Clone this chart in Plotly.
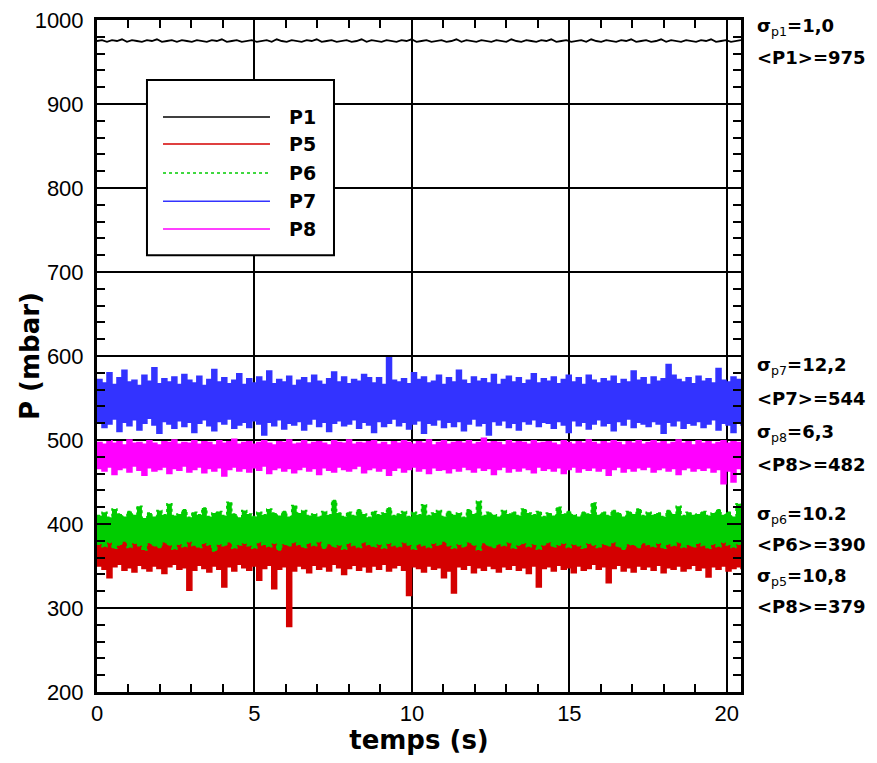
import numpy as np
import plotly.graph_objects as go

T_END = 20.45

# P1: thin, nearly constant signal
P1 = [
975, 976, 974, 976, 975, 977, 974, 976, 975, 974, 976, 975, 977, 974, 975, 976, 974, 976, 975, 974,
976, 975, 974, 976, 975, 977, 974, 975, 976, 974, 975, 976, 974, 975, 976, 974, 977, 975, 974, 976,
975, 974, 976, 975, 977, 974, 975, 976, 974, 975, 976, 974, 975, 977, 974, 976, 975, 974, 976, 975,
974, 976, 975, 977, 974, 975, 976, 974, 975, 976, 974, 975, 977, 974, 976, 975, 974, 976, 975, 974,
976, 975, 974, 977, 975, 974, 976, 975, 974, 976, 975, 977, 974, 975, 976, 974, 975, 976, 974, 977,
975, 974, 976, 975, 974, 976, 975, 977, 974, 975, 976, 974, 975, 977, 974, 976, 975, 974, 976, 975,
974, 976, 975, 977, 974, 975, 976, 974, 975, 976
]

# Dense signals: upper and lower envelope read per time bin (mbar)
P5_HI = [
388, 392, 386, 390, 394, 387, 391, 389, 393, 386,
390, 387, 392, 388, 395, 386, 391, 389, 387, 393,
389, 391, 386, 394, 388, 390, 387, 392, 389, 386,
392, 388, 390, 387, 393, 389, 386, 391, 388, 394,
387, 390, 392, 388, 386, 391, 389, 393, 387, 390,
391, 388, 386, 392, 389, 394, 387, 390, 388, 392,
386, 391, 389, 387, 393, 388, 390, 386, 392, 389,
390, 387, 393, 389, 386, 391, 388, 392, 390, 387,
388, 392, 387, 390, 394, 386, 391, 389, 387, 393,
391, 386, 390, 388, 392, 389, 387, 391, 393, 388,
387, 390, 392, 386, 389, 393, 388, 390, 386, 391,
392, 388, 387, 391, 389, 386, 393, 388, 390, 387,
389, 391, 386, 392, 388, 390, 387, 393, 389, 388
]
P5_LO = [
350, 346, 336, 349, 352, 345, 348, 343, 351, 347,
344, 350, 347, 341, 349, 352, 346, 348, 321, 345,
351, 347, 343, 350, 346, 325, 349, 344, 352, 348,
345, 350, 333, 347, 351, 323, 346, 349, 278, 344,
350, 347, 342, 351, 346, 349, 344, 352, 348, 340,
347, 351, 345, 349, 343, 350, 346, 352, 344, 348,
351, 345, 315, 349, 347, 343, 350, 346, 348, 336,
344, 318, 349, 346, 351, 342, 348, 345, 350, 347,
343, 349, 346, 351, 345, 348, 341, 350, 325, 347,
349, 344, 351, 346, 348, 342, 350, 345, 347, 352,
346, 349, 330, 347, 351, 344, 348, 343, 350, 346,
349, 345, 351, 342, 348, 346, 350, 344, 347, 351,
345, 348, 337, 349, 346, 350, 344, 347, 349, 346
]
P6_HI = [
410, 414, 408, 418, 412, 409, 415, 411, 421, 407,
413, 409, 416, 411, 424, 410, 412, 417, 408, 414,
411, 419, 409, 413, 415, 410, 426, 412, 408, 416,
412, 409, 414, 411, 418, 413, 410, 415, 409, 422,
413, 416, 410, 412, 409, 415, 411, 428, 413, 409,
414, 410, 417, 412, 408, 415, 411, 413, 419, 410,
412, 415, 409, 414, 411, 423, 410, 413, 416, 409,
415, 411, 413, 408, 417, 412, 427, 410, 414, 411,
409, 416, 412, 414, 410, 418, 413, 411, 415, 409,
413, 410, 420, 412, 415, 411, 409, 414, 412, 425,
411, 414, 410, 416, 413, 409, 415, 412, 418, 410,
414, 411, 413, 409, 416, 412, 421, 410, 414, 411,
412, 415, 410, 413, 417, 411, 414, 409, 424, 412
]
P6_LO = [
376, 373, 378, 371, 375, 379, 372, 377, 374, 369,
377, 374, 372, 378, 375, 370, 376, 373, 379, 374,
372, 377, 375, 368, 376, 374, 378, 371, 375, 377,
374, 371, 378, 375, 373, 377, 369, 376, 374, 378,
375, 372, 377, 374, 379, 371, 376, 373, 375, 370,
377, 374, 372, 378, 375, 373, 376, 371, 377, 374,
373, 378, 375, 370, 376, 374, 372, 377, 375, 379,
374, 371, 376, 373, 378, 375, 369, 377, 374, 372,
376, 374, 378, 371, 375, 377, 373, 376, 370, 375,
378, 373, 375, 377, 372, 376, 374, 371, 377, 375,
372, 376, 374, 378, 373, 370, 376, 375, 372, 377,
375, 373, 377, 371, 376, 374, 378, 372, 375, 373,
377, 374, 371, 376, 373, 378, 375, 372, 376, 374
]
P7_HI = [
572, 568, 580, 566, 574, 583, 569, 571, 565, 577,
570, 586, 567, 573, 569, 575, 566, 578, 571, 568,
576, 565, 572, 584, 569, 574, 567, 571, 579, 566,
573, 568, 575, 570, 582, 567, 572, 569, 576, 565,
571, 574, 568, 577, 570, 566, 573, 581, 569, 575,
567, 572, 570, 578, 574, 568, 574, 566, 598, 571,
569, 573, 567, 580, 572, 575, 568, 570, 577, 566,
574, 569, 583, 571, 567, 575, 570, 573, 568, 578,
566, 572, 576, 569, 574, 567, 571, 579, 568, 573,
570, 575, 567, 572, 577, 569, 574, 566, 577, 571,
568, 573, 570, 576, 567, 572, 569, 582, 571, 574,
566, 575, 570, 573, 590, 577, 572, 569, 574, 567,
576, 570, 573, 568, 585, 571, 569, 575, 572, 570
]
P7_LO = [
522, 515, 519, 525, 510, 521, 517, 524, 512, 520,
526, 518, 508, 522, 519, 514, 523, 516, 521, 509,
520, 524, 517, 511, 522, 519, 525, 514, 518, 521,
515, 523, 519, 506, 521, 517, 524, 513, 520, 518,
522, 512, 519, 525, 516, 521, 510, 520, 523, 517,
519, 524, 514, 521, 518, 509, 522, 516, 520, 525,
517, 521, 513, 519, 523, 508, 520, 518, 524, 515,
521, 516, 522, 511, 519, 525, 517, 520, 506, 522,
518, 523, 515, 520, 512, 522, 519, 524, 516, 521,
520, 514, 522, 518, 509, 523, 517, 521, 513, 519,
524, 517, 520, 511, 522, 518, 525, 515, 521, 519,
516, 522, 519, 508, 521, 517, 523, 514, 520, 518,
522, 515, 519, 524, 512, 520, 518, 509, 521, 517
]
P8_HI = [
497, 495, 499, 496, 498, 494, 500, 496, 497, 495,
499, 496, 494, 498, 497, 500, 495, 497, 496, 499,
495, 498, 497, 494, 499, 496, 498, 501, 495, 497,
498, 495, 497, 499, 496, 494, 498, 497, 500, 495,
496, 499, 495, 497, 498, 496, 494, 499, 497, 496,
500, 495, 497, 496, 498, 499, 495, 497, 494, 498,
496, 499, 497, 495, 498, 496, 500, 494, 497, 499,
495, 497, 498, 496, 499, 495, 497, 502, 496, 498,
497, 494, 499, 496, 498, 497, 495, 499, 496, 497,
498, 496, 494, 499, 497, 495, 498, 496, 500, 497,
495, 498, 496, 499, 497, 494, 498, 496, 499, 495,
497, 499, 496, 498, 495, 497, 500, 496, 498, 494,
499, 496, 498, 495, 497, 499, 496, 498, 497, 495
]
P8_LO = [
466, 463, 468, 459, 465, 467, 462, 469, 464, 458,
467, 463, 465, 468, 460, 466, 464, 469, 462, 465,
468, 461, 466, 463, 467, 457, 465, 468, 463, 466,
462, 467, 464, 469, 460, 465, 467, 463, 466, 461,
465, 468, 463, 466, 459, 467, 464, 462, 468, 465,
463, 466, 469, 461, 465, 467, 463, 466, 458, 464,
467, 462, 465, 468, 463, 466, 460, 467, 464, 465,
461, 466, 463, 468, 465, 462, 467, 464, 466, 459,
465, 468, 462, 466, 463, 467, 465, 461, 468, 464,
466, 463, 467, 460, 465, 468, 462, 466, 464, 467,
463, 466, 458, 465, 468, 462, 466, 463, 467, 465,
468, 462, 465, 467, 463, 466, 459, 465, 467, 463,
466, 464, 467, 462, 465, 448, 463, 450, 466, 460
]

SERIES_NAMES = ["P1", "P5", "P6", "P7", "P8"]
COLORS = ["#000000", "#d40000", "#00cc00", "#3333ff", "#ff00ff"]
DASHES = ["solid", "solid", "dot", "solid", "solid"]
BANDS = {"P5": (P5_LO, P5_HI), "P6": (P6_LO, P6_HI), "P7": (P7_LO, P7_HI), "P8": (P8_LO, P8_HI)}

STAT_TEXTS = [
    ("σ", "p1", "=1,0", "<P1>=975"),
    ("σ", "p7", "=12,2", "<P7>=544"),
    ("σ", "p8", "=6,3", "<P8>=482"),
    ("σ", "p6", "=10.2", "<P6>=390"),
    ("σ", "p5", "=10,8", "<P8>=379"),
]
STAT_Y = [(0.9896, 0.9435), (0.4851, 0.4375), (0.3854, 0.3378), (0.2634, 0.2188), (0.1711, 0.1265)]

FONT = "DejaVu Sans, Verdana, sans-serif"
TICK_FONT = "Liberation Sans, Arial, Helvetica, sans-serif"

fig = go.Figure()
t1 = np.linspace(0, T_END, len(P1))
fig.add_trace(go.Scatter(x=t1, y=P1, mode="lines", name="P1", showlegend=False,
                         line=dict(color="black", width=1.8)))
for name, col, dash in zip(SERIES_NAMES[1:], COLORS[1:], DASHES[1:]):
    lo, hi = BANDS[name]
    t = np.linspace(0, T_END, len(lo))
    fig.add_trace(go.Scatter(x=t, y=lo, mode="lines", name=name, showlegend=False,
                             line=dict(color=col, width=1.5, dash=dash, shape="hv")))
    fig.add_trace(go.Scatter(x=t, y=hi, mode="lines", name=name, showlegend=False,
                             fill="tonexty", fillcolor=col,
                             line=dict(color=col, width=1.5, dash=dash, shape="hv")))

# manual legend (box, line samples, labels)
LEG_X0, LEG_X1, LEG_Y0, LEG_Y1 = 0.0776, 0.368, 0.650, 0.9107
LEG_ROWS = [0.8557, 0.8155, 0.7723, 0.7304, 0.689]
shapes = [dict(type="rect", xref="paper", yref="paper", x0=LEG_X0, x1=LEG_X1, y0=LEG_Y0, y1=LEG_Y1,
               fillcolor="white", line=dict(color="black", width=2), layer="above")]
annotations = []
for name, col, dash, yy in zip(SERIES_NAMES, COLORS, DASHES, LEG_ROWS):
    shapes.append(dict(type="line", xref="paper", yref="paper", x0=0.1025, x1=0.2686, y0=yy, y1=yy,
                       line=dict(color=col, width=1.5, dash=dash), layer="above"))
    annotations.append(dict(xref="paper", yref="paper", x=0.295, y=yy, text=f"<b>{name}</b>",
                            showarrow=False, xanchor="left", yanchor="middle",
                            font=dict(family=FONT, size=19, color="black")))

for (sig, sub, val, mean), (y1, y2) in zip(STAT_TEXTS, STAT_Y):
    annotations.append(dict(xref="paper", yref="paper", x=1.0217, y=y1,
                            text=f"<b>{sig}</b><sub>{sub}</sub><b>{val}</b>",
                            showarrow=False, xanchor="left", yanchor="middle",
                            font=dict(family=FONT, size=18, color="black")))
    annotations.append(dict(xref="paper", yref="paper", x=1.0217, y=y2,
                            text=f"<b>{mean.replace('<', '&lt;').replace('>', '&gt;')}</b>",
                            showarrow=False, xanchor="left", yanchor="middle",
                            font=dict(family=FONT, size=18, color="black")))

# y-axis title placed as a rotated annotation
annotations.append(dict(xref="paper", yref="paper", x=-0.104, y=0.5, text="<b>P (mbar)</b>",
                        textangle=-90, showarrow=False, xanchor="center", yanchor="middle",
                        font=dict(family=FONT, size=26, color="black")))

axis_common = dict(showline=True, linecolor="black", linewidth=3, mirror="ticks",
                   ticks="inside", ticklen=14, tickwidth=2, tickcolor="black",
                   showgrid=True, gridcolor="black", gridwidth=1.5, zeroline=False,
                   automargin=False, ticklabeloverflow="allow",
                   tickfont=dict(family=TICK_FONT, size=22, color="black"))

# page body has an 8 px default margin, so the figure is sized/offset to compensate
fig.update_layout(
    width=861, height=747,
    margin=dict(l=89, r=128, t=12, b=63, autoexpand=False),
    paper_bgcolor="white", plot_bgcolor="white",
    shapes=shapes, annotations=annotations,
    xaxis=dict(range=[0, T_END], dtick=5, tick0=0,
               minor=dict(dtick=1, ticks="inside", ticklen=8, tickwidth=2, tickcolor="black", showgrid=False),
               title=dict(text="<b>temps (s)</b>", font=dict(family=FONT, size=26, color="black"), standoff=4),
               **axis_common),
    yaxis=dict(range=[200, 1000], dtick=100, tick0=200,
               minor=dict(dtick=20, ticks="inside", ticklen=8, tickwidth=2, tickcolor="black", showgrid=False),
               ticklabelstandoff=6,
               **axis_common),
)

fig.write_html("out.html")
